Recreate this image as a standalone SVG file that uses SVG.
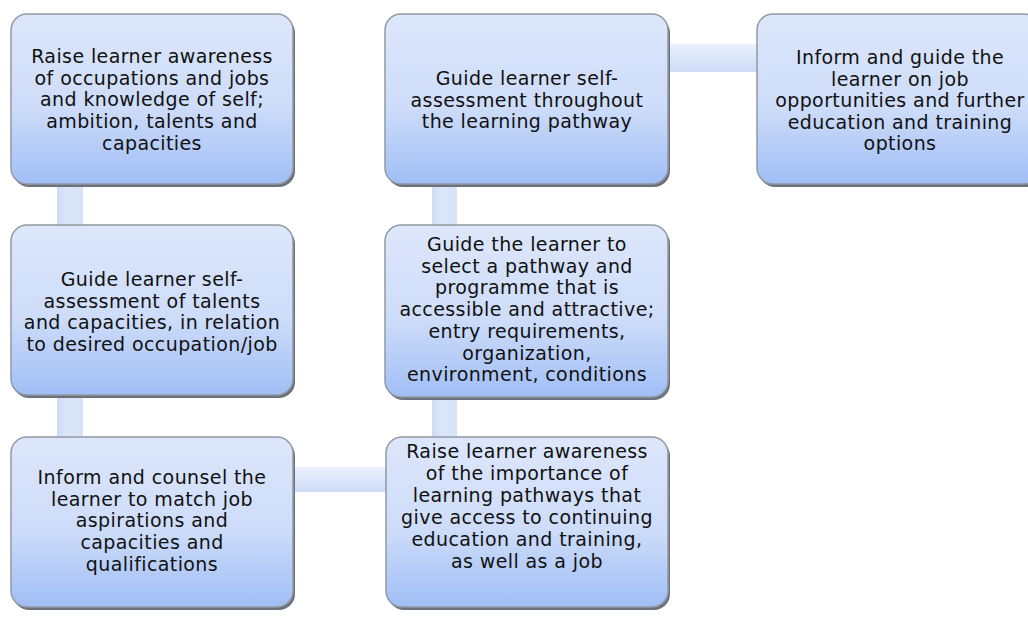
<svg xmlns="http://www.w3.org/2000/svg" width="1028" height="620" viewBox="0 0 1028 620">
  <defs>
    <linearGradient id="boxFill" x1="0" y1="0" x2="0" y2="1">
      <stop offset="0" stop-color="#dde7fb"/>
      <stop offset="0.55" stop-color="#cddcf9"/>
      <stop offset="1" stop-color="#a0bef6"/>
    </linearGradient>
    <linearGradient id="hBar" x1="0" y1="0" x2="0" y2="1">
      <stop offset="0" stop-color="#eaf0fd"/>
      <stop offset="1" stop-color="#cedbf6"/>
    </linearGradient>
    <linearGradient id="vBar" x1="0" y1="0" x2="1" y2="0">
      <stop offset="0" stop-color="#cfdcf6"/>
      <stop offset="0.4" stop-color="#dce6fa"/>
      <stop offset="1" stop-color="#d6e2f8"/>
    </linearGradient>
  </defs>
  <style>
    .shadow { fill: #6c727c; }
    .box { fill: url(#boxFill); stroke: #9399a3; stroke-width: 1.5; }
    .hbar { fill: url(#hBar); }
    .vbar { fill: url(#vBar); }
    text { font-family: "DejaVu Sans", Verdana, sans-serif; font-size: 19px; letter-spacing: 0.4px; fill: #111111; text-anchor: middle; }
  </style>

  <rect width="1028" height="620" fill="#ffffff"/>

  <!-- connector bars between steps -->
  <g id="connectors">
    <rect class="vbar" x="57" y="182" width="26" height="45"/>
    <rect class="vbar" x="57" y="393" width="26" height="46"/>
    <rect class="hbar" x="291" y="467" width="97" height="25"/>
    <rect class="vbar" x="432" y="395" width="25" height="44"/>
    <rect class="vbar" x="432" y="182" width="25" height="45"/>
    <rect class="hbar" x="666" y="44" width="93" height="28"/>
  </g>

  <g id="node-raise-awareness-self">
    <rect class="shadow" x="13" y="17" width="282" height="170" rx="16"/>
    <rect class="box" x="11" y="14" width="282" height="170" rx="16"/>
    <text x="152" y="63">Raise learner awareness</text>
    <text x="152" y="84.7">of occupations and jobs</text>
    <text x="152" y="106.4">and knowledge of self;</text>
    <text x="152" y="128.1">ambition, talents and</text>
    <text x="152" y="149.8">capacities</text>
  </g>

  <g id="node-self-assessment-talents">
    <rect class="shadow" x="13" y="228" width="282" height="170" rx="16"/>
    <rect class="box" x="11" y="225" width="282" height="170" rx="16"/>
    <text x="152" y="286">Guide learner self-</text>
    <text x="152" y="307.5">assessment of talents</text>
    <text x="152" y="329">and capacities, in relation</text>
    <text x="152" y="350.5">to desired occupation/job</text>
  </g>

  <g id="node-inform-counsel">
    <rect class="shadow" x="13" y="440" width="282" height="170" rx="16"/>
    <rect class="box" x="11" y="437" width="282" height="170" rx="16"/>
    <text x="152" y="484">Inform and counsel the</text>
    <text x="152" y="505.7">learner to match job</text>
    <text x="152" y="527.4">aspirations and</text>
    <text x="152" y="549.1">capacities and</text>
    <text x="152" y="570.8">qualifications</text>
  </g>

  <g id="node-raise-awareness-pathways">
    <rect class="shadow" x="388" y="440" width="282" height="170" rx="16"/>
    <rect class="box" x="386" y="437" width="282" height="170" rx="16"/>
    <text x="527" y="458">Raise learner awareness</text>
    <text x="527" y="480">of the importance of</text>
    <text x="527" y="502">learning pathways that</text>
    <text x="527" y="524">give access to continuing</text>
    <text x="527" y="546">education and training,</text>
    <text x="527" y="568">as well as a job</text>
  </g>

  <g id="node-select-pathway">
    <rect class="shadow" x="387" y="228" width="283" height="172" rx="16"/>
    <rect class="box" x="385" y="225" width="283" height="172" rx="16"/>
    <text x="527" y="251">Guide the learner to</text>
    <text x="527" y="272.7">select a pathway and</text>
    <text x="527" y="294.4">programme that is</text>
    <text x="527" y="316.1">accessible and attractive;</text>
    <text x="527" y="337.8">entry requirements,</text>
    <text x="527" y="359.5">organization,</text>
    <text x="527" y="381.2">environment, conditions</text>
  </g>

  <g id="node-self-assessment-pathway">
    <rect class="shadow" x="387" y="17" width="283" height="170" rx="16"/>
    <rect class="box" x="385" y="14" width="283" height="170" rx="16"/>
    <text x="527" y="85">Guide learner  self-</text>
    <text x="527" y="106.5">assessment throughout</text>
    <text x="527" y="128">the learning pathway</text>
  </g>

  <g id="node-inform-guide-options">
    <rect class="shadow" x="759" y="17" width="283" height="170" rx="16"/>
    <rect class="box" x="757" y="14" width="283" height="170" rx="16"/>
    <text x="900" y="64">Inform and guide the</text>
    <text x="900" y="85.5">learner on job</text>
    <text x="900" y="107">opportunities and further</text>
    <text x="900" y="128.5">education and training</text>
    <text x="900" y="150">options</text>
  </g>
</svg>
